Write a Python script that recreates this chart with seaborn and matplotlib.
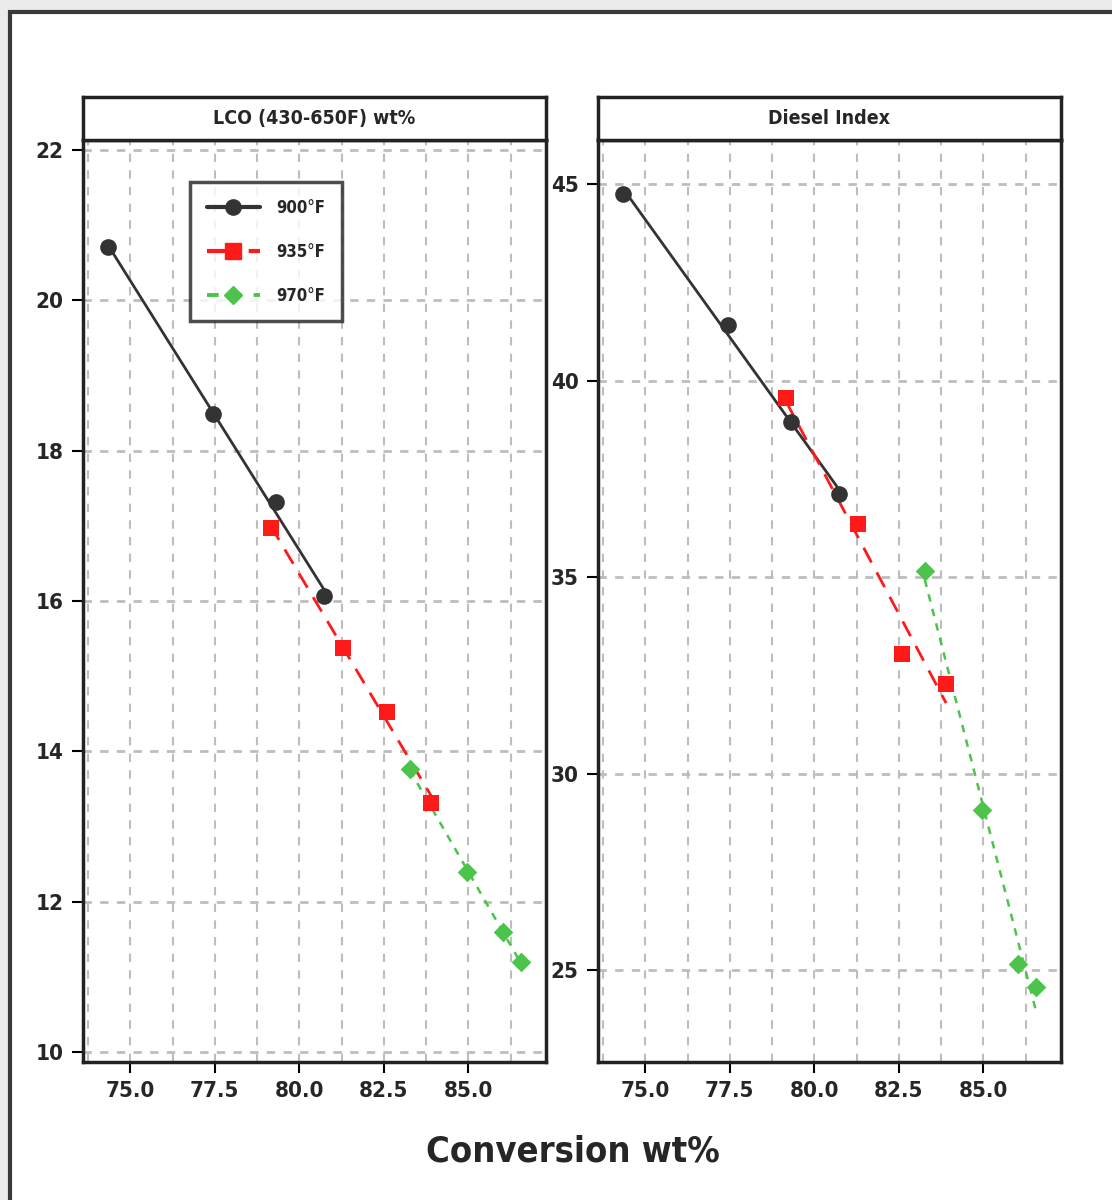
import numpy as np
import pandas as pd
import seaborn as sns
import matplotlib
matplotlib.use("Agg")
import matplotlib.pyplot as plt
from matplotlib.lines import Line2D
from matplotlib.patches import Rectangle
from matplotlib.ticker import MultipleLocator

# conversion (wt%) for each reactor temperature
temps = ["900°F", "935°F", "970°F"]
conv_900 = [74.35, 77.44, 79.31, 80.73]
conv_935 = [79.15, 81.29, 82.59, 83.90]
conv_970 = [83.27, 84.95, 86.03, 86.56]

# LCO (430-650F) wt%
lco_900 = [20.71, 18.48, 17.31, 16.06]
lco_935 = [16.97, 15.38, 14.53, 13.32]
lco_970 = [13.77, 12.40, 11.60, 11.20]

# Diesel Index
di_900 = [44.75, 41.41, 38.94, 37.11]
di_935 = [39.55, 36.35, 33.04, 32.28]
di_970 = [35.15, 29.07, 25.15, 24.57]

panel_titles = ["LCO (430-650F) wt%", "Diesel Index"]
x_ticks = [75.0, 77.5, 80.0, 82.5, 85.0]
lco_ticks = [10, 12, 14, 16, 18, 20, 22]
di_ticks = [25, 30, 35, 40, 45]

df = pd.DataFrame({
    "temp": np.repeat(temps, 4),
    "conv": conv_900 + conv_935 + conv_970,
    "lco": lco_900 + lco_935 + lco_970,
    "di": di_900 + di_935 + di_970,
})

sns.set_theme(style="white")
plt.rcParams["font.family"] = ["DejaVu Sans"]
plt.rcParams["font.stretch"] = "condensed"
plt.rcParams["font.weight"] = "bold"

styles = {
    "900°F": dict(color="#333333", marker="o", ls="-", lw=2.0, ms=12),
    "935°F": dict(color="#ff1a1a", marker="s", ls=(0, (6, 4)), lw=2.0, ms=12),
    "970°F": dict(color="#4cc44c", marker="D", ls=(0, (3, 3)), lw=1.8, ms=10),
}

fig = plt.figure(figsize=(11.12, 12), dpi=100)
# screenshot-like frame
fig.patches.append(Rectangle((0, 0), 1, 1, transform=fig.transFigure,
                             facecolor="#ececec", edgecolor="none", zorder=-3))
fig.patches.append(Rectangle((10 / 1112, -0.1), 1.2, 1.1 - 12 / 1200,
                             transform=fig.transFigure, facecolor="white",
                             edgecolor="#3a3a3a", lw=3, zorder=-2))

lefts = [83 / 1112, 598 / 1112]
w = 463 / 1112
bottom = 1 - 1062 / 1200
h = 922 / 1200
strip_h = 43 / 1200

cols = ["lco", "di"]
ylims = [(9.87, 22.13), (22.66, 46.12)]
yticks = [lco_ticks, di_ticks]

for i in range(2):
    ax = fig.add_axes([lefts[i], bottom, w, h])
    for t in temps:
        sub = df[df["temp"] == t]
        st = styles[t]
        sns.regplot(data=sub, x="conv", y=cols[i], ax=ax,
                    ci=None, scatter=False, truncate=True,
                    line_kws=dict(color=st["color"], ls=st["ls"], lw=st["lw"]))
        sns.scatterplot(data=sub, x="conv", y=cols[i], ax=ax, color=st["color"],
                        marker=st["marker"], s=st["ms"] ** 2, edgecolor=st["color"],
                        linewidth=0, zorder=5, legend=False)
    ax.set_xlim(73.6, 87.3)
    ax.set_ylim(*ylims[i])
    ax.set_xticks(x_ticks)
    ax.set_xticklabels(["%.1f" % v for v in x_ticks], fontsize=16, fontweight="bold")
    ax.set_yticks(yticks[i])
    ax.set_yticklabels([str(v) for v in yticks[i]], fontsize=16, fontweight="bold")
    ax.xaxis.set_minor_locator(MultipleLocator(1.25))
    ax.grid(True, axis="x", which="both", color="#bdbdbd", ls=(0, (4, 4)), lw=1.5)
    ax.grid(True, axis="y", which="major", color="#bdbdbd", ls=(0, (3, 3)), lw=2)
    ax.set_axisbelow(True)
    ax.tick_params(axis="both", which="major", direction="out", length=8, width=1.5,
                   color="black", bottom=True, left=True, pad=6)
    ax.tick_params(axis="both", which="minor", length=0)
    ax.set_xlabel("")
    ax.set_ylabel("")
    for sp in ax.spines.values():
        sp.set_linewidth(2.5)
        sp.set_color("#222222")

    # strip header above panel
    sax = fig.add_axes([lefts[i], bottom + h, w, strip_h])
    sax.set_xticks([])
    sax.set_yticks([])
    sax.set_facecolor("white")
    for sp in sax.spines.values():
        sp.set_linewidth(2.5)
        sp.set_color("#222222")
    sax.text(0.5, 0.5, panel_titles[i], ha="center", va="center", fontsize=14,
             fontweight="bold", transform=sax.transAxes)

    if i == 0:
        handles = [Line2D([], [], color=styles[t]["color"], ls=styles[t]["ls"],
                          lw=styles[t]["lw"] + 1, marker=styles[t]["marker"],
                          ms=styles[t]["ms"] - 1) for t in temps]
        leg = ax.legend(handles, temps, loc="upper left",
                        bbox_to_anchor=(0.231, 0.954), borderaxespad=0,
                        frameon=True, fancybox=False,
                        edgecolor="#222222", fontsize=12, handlelength=3.2,
                        borderpad=1.0, labelspacing=1.55, handletextpad=1.0)
        leg.get_frame().set_linewidth(2.5)

fig.text((83 + 1062) / 2 / 1112, 1 - 1152 / 1200, "Conversion wt%", ha="center",
         va="center", fontsize=26, fontweight="bold")

fig.savefig("out.png", dpi=100)
